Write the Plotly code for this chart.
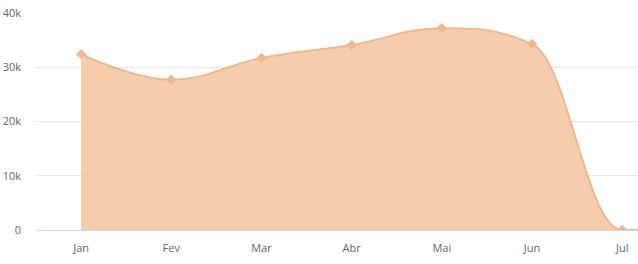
import plotly.graph_objects as go

months = ["Jan", "Fev", "Mar", "Abr", "Mai", "Jun", "Jul", "Ago"]
values = [32400, 27700, 31700, 34100, 37200, 34300, 0, 0]
y_ticks = [0, 10000, 20000, 30000, 40000]
y_tick_labels = ["0", "10k", "20k", "30k", "40k"]

LINE = "#f2b88d"
FILL = "rgba(244,196,158,0.85)"

xs = list(range(len(months)))


def spline_controls(xv, yv, smoothing=1.5):
    """Highcharts-style spline control points (left/right for each point)."""
    n = len(xv)
    left = [None] * n
    right = [None] * n
    denom = smoothing + 1
    for i in range(1, n - 1):
        px, py = xv[i], yv[i]
        lx, ly = xv[i - 1], yv[i - 1]
        nx, ny = xv[i + 1], yv[i + 1]
        lcx = (smoothing * px + lx) / denom
        lcy = (smoothing * py + ly) / denom
        rcx = (smoothing * px + nx) / denom
        rcy = (smoothing * py + ny) / denom
        if rcx != lcx:
            corr = ((rcy - lcy) * (rcx - px)) / (rcx - lcx) + py - rcy
            lcy += corr
            rcy += corr
        if lcy > ly and lcy > py:
            lcy = max(ly, py)
            rcy = 2 * py - lcy
        elif lcy < ly and lcy < py:
            lcy = min(ly, py)
            rcy = 2 * py - lcy
        if rcy > ny and rcy > py:
            rcy = max(ny, py)
            lcy = 2 * py - rcy
        elif rcy < ny and rcy < py:
            rcy = min(ny, py)
            lcy = 2 * py - rcy
        left[i] = (lcx, lcy)
        right[i] = (rcx, rcy)
    return left, right


left, right = spline_controls(xs, values)
curve = ""
for i in range(1, len(xs)):
    c1 = right[i - 1] or (xs[i - 1], values[i - 1])
    c2 = left[i] or (xs[i], values[i])
    curve += f" C {c1[0]},{c1[1]} {c2[0]},{c2[1]} {xs[i]},{values[i]}"

line_path = f"M {xs[0]},{values[0]}" + curve
fill_path = f"M {xs[0]},0 L {xs[0]},{values[0]}" + curve + f" L {xs[-1]},0 Z"

fig = go.Figure()
fig.add_shape(type="path", path=fill_path, xref="x", yref="y",
              fillcolor=FILL, line=dict(width=0), layer="between")
fig.add_shape(type="path", path=line_path, xref="x", yref="y",
              line=dict(color=LINE, width=2), layer="between")
fig.add_trace(go.Scatter(
    x=xs, y=values, mode="markers",
    marker=dict(symbol="diamond", size=8, color=LINE),
    hoverinfo="skip", cliponaxis=True,
))

fig.update_layout(
    width=638, height=264,
    margin=dict(l=36, r=0, t=13, b=34),
    paper_bgcolor="white", plot_bgcolor="white",
    showlegend=False,
    font=dict(family="Open Sans, sans-serif", size=11, color="#666666"),
    xaxis=dict(
        tickmode="array", tickvals=xs, ticktext=months,
        range=[-0.5, 6.175], showgrid=False, zeroline=False,
        showline=True, linecolor="#ccd6eb", linewidth=1,
        ticks="", ticklabelstandoff=8,
    ),
    yaxis=dict(
        tickmode="array", tickvals=y_ticks, ticktext=y_tick_labels,
        range=[0, 40000], showgrid=True, gridcolor="#e6e6e6", gridwidth=1,
        zeroline=False, showline=False, ticks="", ticklabelstandoff=14,
    ),
)

fig.write_html("out.html")
